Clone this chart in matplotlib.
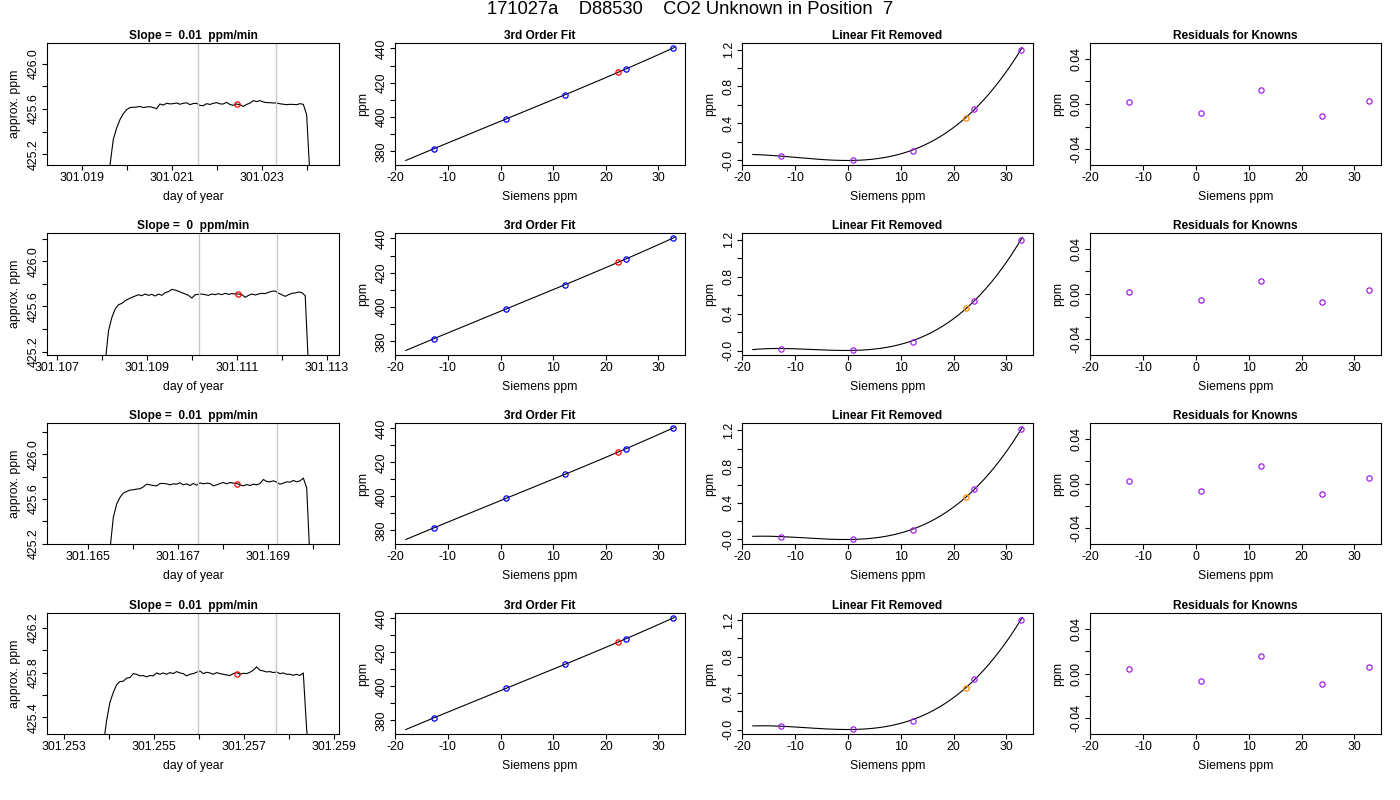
import numpy as np
import matplotlib
matplotlib.use('Agg')
import matplotlib.pyplot as plt

plt.rcParams['font.family'] = ['Liberation Sans', 'DejaVu Sans']
plt.rcParams['axes.xmargin'] = 0.04
plt.rcParams['axes.ymargin'] = 0.04

run_title = "171027a    D88530    CO2 Unknown in Position  7"
slopes = ["0.01", "0", "0.01", "0.01"]

# --- analyzer trace for each injection (sampled every ~6.4 s) ---
trace_start = [301.019629, 301.108073, 301.16548, 301.25387]
trace_step = 0.0000741

trace1 = [425.10, 425.33, 425.43, 425.505, 425.558, 425.594, 425.612, 425.615, 425.617, 425.623,
          425.612, 425.618, 425.620, 425.612, 425.603, 425.644, 425.635, 425.650, 425.645, 425.647,
          425.653, 425.642, 425.650, 425.655, 425.638, 425.648, 425.650, 425.632, 425.629, 425.647,
          425.640, 425.650, 425.656, 425.645, 425.644, 425.659, 425.640, 425.632, 425.644, 425.638,
          425.623, 425.640, 425.652, 425.674, 425.665, 425.674, 425.662, 425.656, 425.656, 425.653,
          425.653, 425.646, 425.642, 425.638, 425.641, 425.640, 425.638, 425.647, 425.641, 425.55,
          425.00]
trace2 = [425.10, 425.384, 425.502, 425.577, 425.615, 425.627, 425.651, 425.666, 425.680, 425.692,
          425.704, 425.695, 425.710, 425.698, 425.707, 425.692, 425.710, 425.698, 425.722, 425.731,
          425.751, 425.745, 425.734, 425.722, 425.710, 425.698, 425.674, 425.704, 425.707, 425.710,
          425.704, 425.698, 425.710, 425.704, 425.713, 425.704, 425.716, 425.707, 425.713, 425.710,
          425.710, 425.704, 425.680, 425.698, 425.710, 425.701, 425.710, 425.716, 425.713, 425.725,
          425.734, 425.737, 425.716, 425.704, 425.689, 425.704, 425.716, 425.719, 425.728, 425.722,
          425.695, 425.05]
trace3 = [425.15, 425.437, 425.555, 425.615, 425.653, 425.668, 425.680, 425.683, 425.689, 425.692,
          425.709, 425.733, 425.727, 425.721, 425.718, 425.739, 425.739, 425.736, 425.727, 425.736,
          425.733, 425.745, 425.727, 425.736, 425.721, 425.739, 425.724, 425.745, 425.736, 425.742,
          425.739, 425.718, 425.727, 425.739, 425.748, 425.736, 425.748, 425.742, 425.739, 425.727,
          425.718, 425.730, 425.721, 425.733, 425.727, 425.739, 425.775, 425.757, 425.754, 425.763,
          425.751, 425.733, 425.742, 425.754, 425.751, 425.766, 425.754, 425.763, 425.787, 425.70,
          425.05]
trace4 = [425.15, 425.37, 425.534, 425.622, 425.691, 425.720, 425.723, 425.750, 425.756, 425.791,
          425.785, 425.771, 425.774, 425.762, 425.774, 425.771, 425.797, 425.785, 425.797, 425.785,
          425.800, 425.791, 425.809, 425.797, 425.791, 425.771, 425.785, 425.791, 425.803, 425.815,
          425.791, 425.803, 425.797, 425.785, 425.800, 425.791, 425.785, 425.779, 425.774, 425.791,
          425.800, 425.785, 425.794, 425.791, 425.803, 425.821, 425.851, 425.821, 425.815, 425.806,
          425.809, 425.800, 425.806, 425.791, 425.797, 425.785, 425.785, 425.776, 425.785, 425.774,
          425.797, 425.30, 425.00]
traces = [trace1, trace2, trace3, trace4]

avg_window = [(301.02158, 301.02332), (301.11015, 301.11189),
              (301.16744, 301.16919), (301.25598, 301.25772)]
unk_time = [301.02246, 301.11102, 301.16831, 301.25684]
unk_avg = [425.644, 425.710, 425.739, 425.792]
time_xlim = [(301.01823, 301.02472), (301.10678, 301.11327),
             (301.16408, 301.17057), (301.25262, 301.25911)]

# --- calibration ---
known_siemens = [-12.7, 1.0, 12.3, 23.8, 32.8]
known_ppm = [381.5, 398.8, 413.0, 428.0, 440.2]
unk_siemens = [22.3, 22.3, 22.3, 22.4]
unk_ppm = [426.2, 426.2, 426.2, 426.2]
fit_range = [-18, 33]

lin_removed = [[0.043, 0.007, 0.097, 0.553, 1.200],
               [0.022, 0.010, 0.097, 0.540, 1.200],
               [0.026, 0.004, 0.097, 0.551, 1.210],
               [0.036, 0.011, 0.096, 0.550, 1.207]]
unk_removed = [0.463, 0.465, 0.465, 0.460]

residuals = [[0.0015, -0.0080, 0.0126, -0.0103, 0.0030],
             [0.0018, -0.0053, 0.0115, -0.0070, 0.0035],
             [0.0020, -0.0066, 0.0154, -0.0093, 0.0049],
             [0.0040, -0.0066, 0.0154, -0.0093, 0.0057]]


def r_ticks(ax, which, step, fmt, every=2):
    # R style: a tick every step, labels dropped where they would overlap
    lo, hi = ax.get_xlim() if which == 'x' else ax.get_ylim()
    first = np.ceil(lo / step - 1e-6)
    last = np.floor(hi / step + 1e-6)
    ticks = np.arange(first, last + 1) * step
    labels = [fmt % t if i % every == 0 else '' for i, t in enumerate(ticks)]
    if which == 'x':
        ax.set_xticks(ticks, labels)
    else:
        ax.set_yticks(ticks, labels)


def style(ax, title, xlabel, ylabel):
    ax.set_title(title, fontsize=8.6, fontweight='bold', pad=3)
    ax.set_xlabel(xlabel, fontsize=8.8)
    ax.set_ylabel(ylabel, fontsize=8.8)
    ax.xaxis.set_label_coords(0.5, -0.215)
    ax.yaxis.set_label_coords(-0.09, 0.5)
    ax.tick_params(direction='out', length=3.6, width=0.8, labelsize=8.9, pad=1.5)
    ax.tick_params(axis='y', labelrotation=90)
    plt.setp(ax.get_yticklabels(), va='center')
    for s in ax.spines.values():
        s.set_linewidth(0.8)


fig = plt.figure(figsize=(14, 8), dpi=100)
fig.text(0.5 - 10 / 1400, 1 - 10 / 800, run_title, ha='center', va='center', fontsize=13.2)

col_x = [(47, 339), (395, 685), (742, 1033), (1090, 1381)]
row_y = [(43, 165), (233, 355), (423, 544), (613, 734)]


def add_ax(r, c):
    x0, x1 = col_x[c]
    y0, y1 = row_y[r]
    return fig.add_axes([x0 / 1400, 1 - y1 / 800, (x1 - x0) / 1400, (y1 - y0) / 800])


mk = dict(marker='o', mfc='none', ms=3.8, mew=0.9, ls='none')
xs = np.linspace(fit_range[0], fit_range[1], 200)

for r in range(4):
    # trace
    ax = add_ax(r, 0)
    t = trace_start[r] + trace_step * np.arange(len(traces[r]))
    ax.plot(t, traces[r], color='black', lw=0.8)
    for w in avg_window[r]:
        ax.axvline(w, color='#c8c8c8', lw=1)
    ax.plot(unk_time[r], unk_avg[r], color='red', **mk)
    ax.set_xlim(time_xlim[r])
    ax.set_ylim(unk_avg[r] - 0.54, unk_avg[r] + 0.54)
    r_ticks(ax, 'x', 0.001, '%.3f')
    r_ticks(ax, 'y', 0.2, '%.1f')
    style(ax, "Slope =  %s  ppm/min" % slopes[r], "day of year", "approx. ppm")

    # 3rd order fit
    ax = add_ax(r, 1)
    cf = np.polyfit(known_siemens, known_ppm, 3)
    ax.plot(xs, np.polyval(cf, xs), color='black', lw=0.8)
    ax.plot(known_siemens, known_ppm, color='blue', **mk)
    ax.plot(unk_siemens[r], unk_ppm[r], color='red', **mk)
    ax.set_xlim(-20.04, 35.04)
    r_ticks(ax, 'x', 10, '%d', every=1)
    r_ticks(ax, 'y', 10, '%d')
    style(ax, "3rd Order Fit", "Siemens ppm", "ppm")

    # linear fit removed
    ax = add_ax(r, 2)
    cf = np.polyfit(known_siemens, lin_removed[r], 3)
    ax.plot(xs, np.polyval(cf, xs), color='black', lw=0.8)
    ax.plot(known_siemens, lin_removed[r], color='#A020F0', **mk)
    ax.plot(unk_siemens[r], unk_removed[r], color='#FF8C00', **mk)
    ax.set_xlim(-20.04, 35.04)
    r_ticks(ax, 'x', 10, '%d', every=1)
    r_ticks(ax, 'y', 0.2, '%.1f')
    style(ax, "Linear Fit Removed", "Siemens ppm", "ppm")

    # residuals
    ax = add_ax(r, 3)
    ax.plot(known_siemens, residuals[r], color='#A020F0', **mk)
    ax.set_xlim(-20.04, 35.04)
    ax.set_ylim(-0.054, 0.054)
    r_ticks(ax, 'x', 10, '%d', every=1)
    r_ticks(ax, 'y', 0.02, '%.2f')
    style(ax, "Residuals for Knowns", "Siemens ppm", "ppm")

fig.savefig('out.png', dpi=100)
